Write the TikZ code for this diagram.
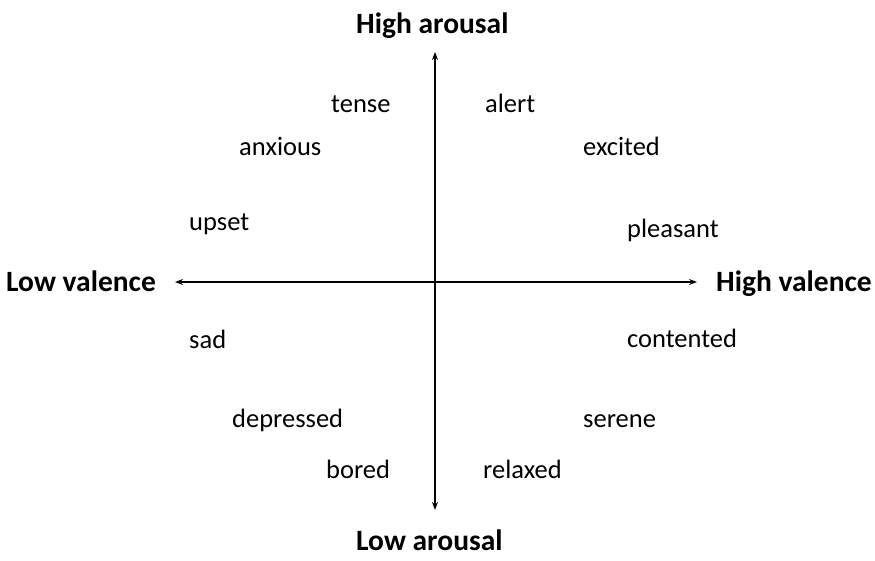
\documentclass[tikz,border=0pt]{standalone}
\usepackage{fontspec}
\setmainfont{Carlito}
\usetikzlibrary{arrows.meta}
\begin{document}
\begin{tikzpicture}[x=1pt,y=-1pt,
  word/.style={anchor=base west,inner sep=0pt,font=\fontsize{26.5}{31}\selectfont},
  pole/.style={anchor=base west,inner sep=0pt,font=\fontsize{29.5}{35}\selectfont\bfseries},
  axis/.style={line width=1.1pt,{Stealth[length=8pt,width=6pt]}-{Stealth[length=8pt,width=6pt]}}]
\useasboundingbox (0,0) rectangle (875,560);
\coordinate (top) at (435,52);
\coordinate (bottom) at (435,510);
\coordinate (left) at (175,282);
\coordinate (right) at (697,282);
\draw[axis] (bottom) -- (top);
\draw[axis] (left) -- (right);
\node[pole] (ha) at (356,33.5) {High arousal};
\node[pole] (la) at (356,550) {Low arousal};
\node[pole] (lv) at (6,291) {Low valence};
\node[pole] (hv) at (716,291) {High valence};
\node[word] (tense) at (331,112) {tense};
\node[word] (alert) at (485,112) {alert};
\node[word] (anxious) at (239,155) {anxious};
\node[word] (excited) at (583,155) {excited};
\node[word] (upset) at (189,230) {upset};
\node[word] (pleasant) at (627,237) {pleasant};
\node[word] (sad) at (189,348) {sad};
\node[word] (contented) at (627,347) {contented};
\node[word] (depressed) at (232,427) {depressed};
\node[word] (serene) at (583,427) {serene};
\node[word] (bored) at (326,478) {bored};
\node[word] (relaxed) at (483,478) {relaxed};
\end{tikzpicture}
\end{document}
